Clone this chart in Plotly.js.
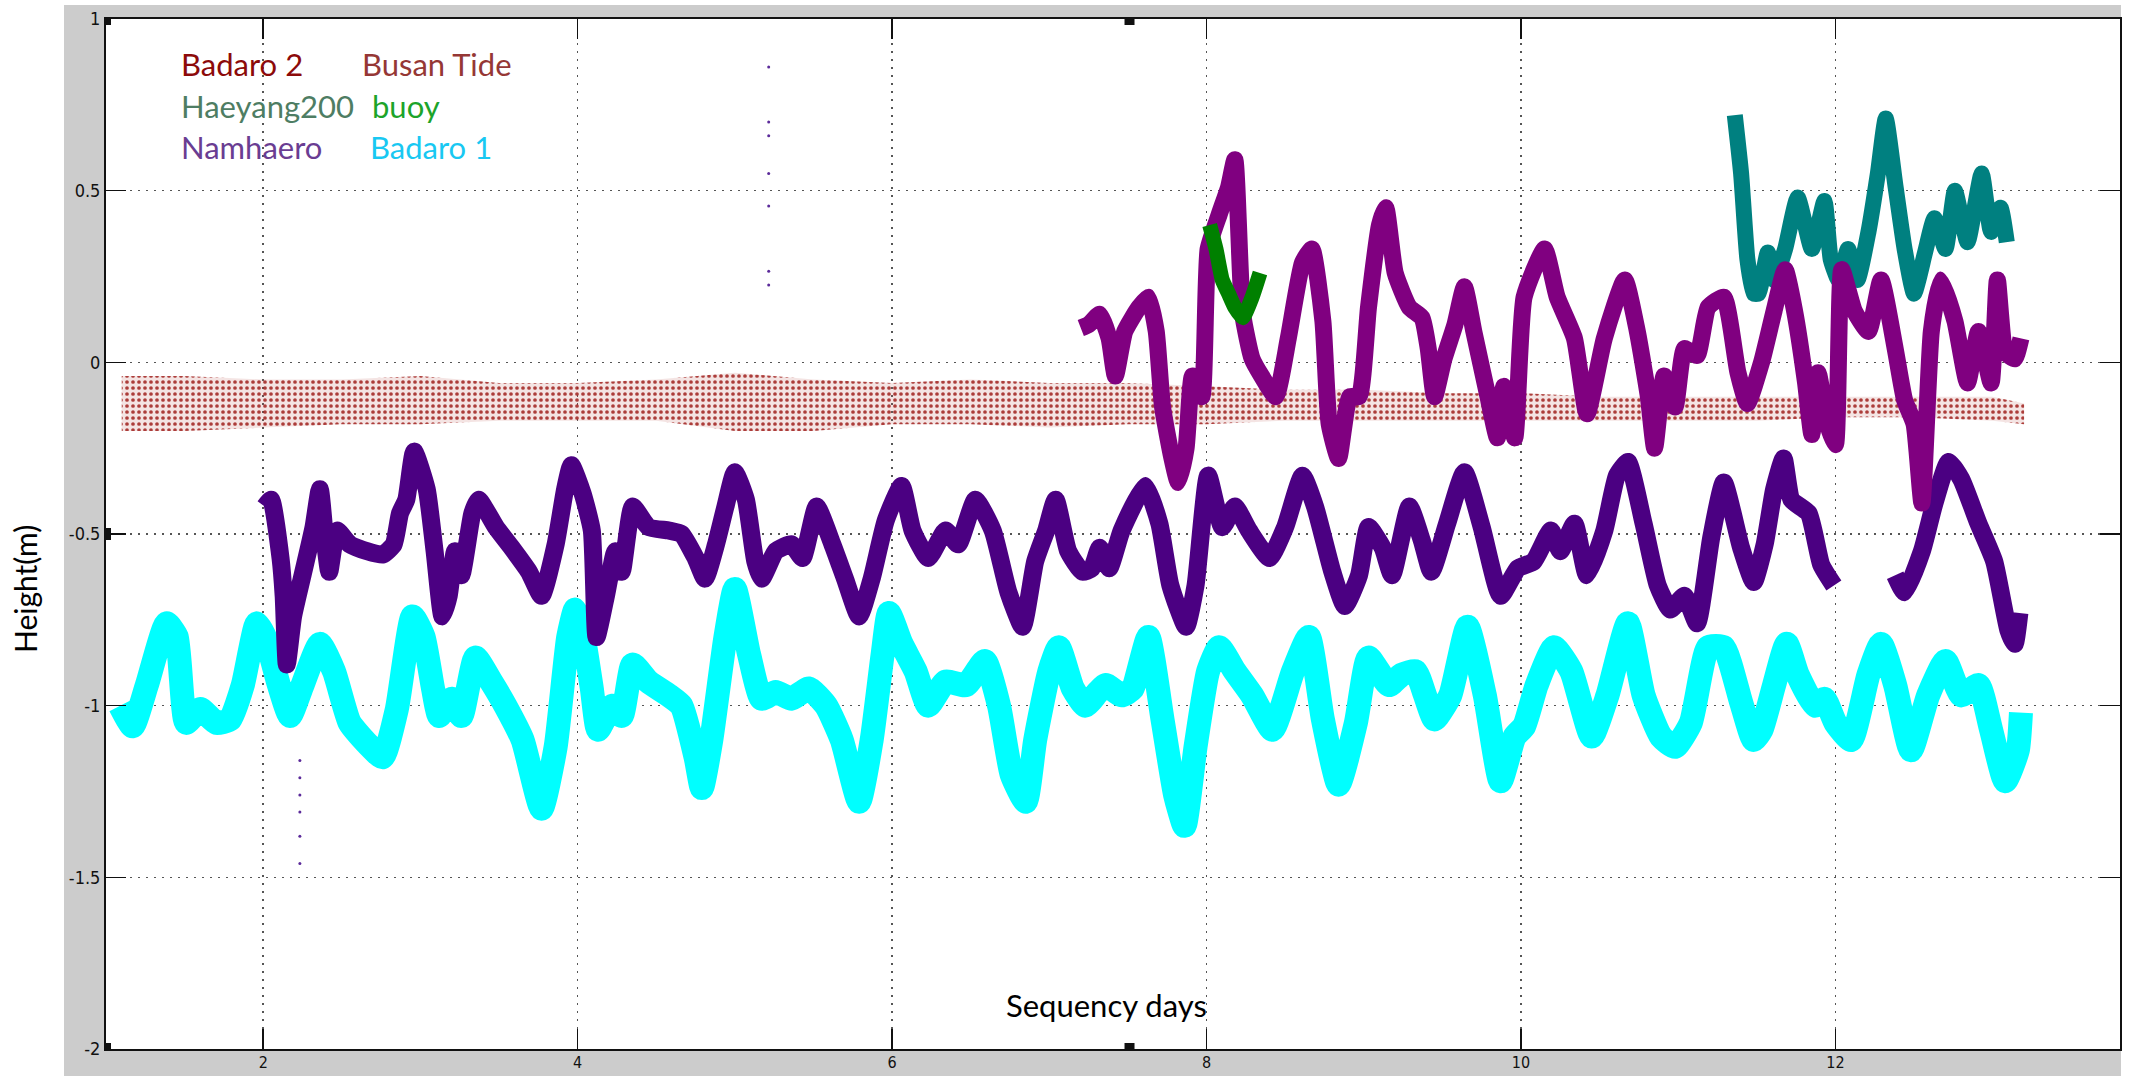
<!DOCTYPE html>
<html>
<head>
<meta charset="utf-8">
<script src="https://cdn.plot.ly/plotly-3.0.1.min.js"></script>
<style>
html,body{margin:0;padding:0;background:#ffffff;}
#chart{width:2131px;height:1076px;}
</style>
</head>
<body>
<div id="chart"></div>
<script>
// ---- Badaro 1 (cyan) ----
const badaro1X = [1.09,1.17,1.26,1.385,1.45,1.51,1.60,1.70,1.79,1.87,1.96,2.02,2.10,2.17,2.25,2.36,2.45,2.55,2.66,2.76,2.85,2.95,3.02,3.08,3.12,3.20,3.26,3.35,3.45,3.54,3.65,3.77,3.86,3.94,3.985,4.03,4.09,4.13,4.22,4.28,4.35,4.45,4.58,4.66,4.75,4.79,4.85,4.94,5.00,5.09,5.17,5.26,5.36,5.47,5.58,5.68,5.79,5.87,5.94,5.98,6.06,6.15,6.23,6.34,6.47,6.59,6.68,6.76,6.85,6.91,7.00,7.06,7.15,7.23,7.31,7.36,7.46,7.53,7.63,7.72,7.80,7.86,7.93,8.01,8.08,8.18,8.29,8.42,8.55,8.65,8.74,8.84,8.95,9.03,9.16,9.24,9.33,9.39,9.45,9.55,9.66,9.77,9.87,9.96,10.02,10.10,10.21,10.32,10.45,10.55,10.68,10.78,10.89,10.98,11.08,11.19,11.29,11.40,11.48,11.53,11.61,11.69,11.76,11.87,11.93,12.00,12.10,12.21,12.29,12.38,12.48,12.59,12.70,12.80,12.91,12.99,13.08,13.16,13.18];
const badaro1Y = [-1.00,-1.06,-0.94,-0.76,-0.80,-1.05,-1.01,-1.05,-1.04,-0.94,-0.76,-0.81,-0.94,-1.03,-0.94,-0.82,-0.90,-1.05,-1.11,-1.15,-1.01,-0.74,-0.80,-0.95,-1.03,-0.98,-1.03,-0.86,-0.93,-1.00,-1.10,-1.30,-1.12,-0.80,-0.72,-0.78,-0.95,-1.07,-1.00,-1.03,-0.88,-0.93,-0.97,-1.00,-1.15,-1.24,-1.10,-0.80,-0.66,-0.85,-0.98,-0.96,-0.98,-0.95,-1.00,-1.10,-1.28,-1.10,-0.85,-0.73,-0.82,-0.90,-1.00,-0.93,-0.94,-0.87,-1.00,-1.20,-1.28,-1.10,-0.90,-0.83,-0.95,-1.00,-0.96,-0.94,-0.97,-0.95,-0.80,-1.04,-1.26,-1.35,-1.12,-0.90,-0.83,-0.90,-0.97,-1.07,-0.90,-0.80,-1.04,-1.23,-1.05,-0.86,-0.94,-0.91,-0.90,-0.97,-1.04,-0.97,-0.77,-0.97,-1.22,-1.09,-1.06,-0.94,-0.83,-0.90,-1.09,-0.97,-0.76,-0.97,-1.09,-1.12,-1.05,-0.83,-0.83,-0.99,-1.10,-1.07,-0.94,-0.82,-0.91,-1.00,-0.98,-1.05,-1.10,-0.91,-0.82,-0.94,-1.13,-0.97,-0.87,-0.97,-0.94,-1.07,-1.22,-1.13,-1.02];

// ---- Namhaero (indigo) ----
const namhaeroX = [2.01,2.05,2.11,2.13,2.15,2.19,2.25,2.32,2.36,2.40,2.42,2.47,2.55,2.66,2.76,2.83,2.87,2.91,2.96,3.04,3.09,3.14,3.18,3.22,3.26,3.33,3.37,3.48,3.58,3.69,3.77,3.86,3.92,3.96,4.03,4.09,4.12,4.18,4.24,4.28,4.35,4.45,4.58,4.66,4.75,4.81,4.88,4.94,5.00,5.07,5.13,5.17,5.26,5.36,5.43,5.52,5.62,5.70,5.79,5.87,5.96,6.06,6.13,6.23,6.34,6.42,6.53,6.64,6.74,6.83,6.91,6.98,7.04,7.12,7.21,7.27,7.32,7.38,7.46,7.61,7.70,7.77,7.87,7.93,8.01,8.10,8.18,8.27,8.40,8.50,8.61,8.69,8.80,8.88,8.97,9.03,9.12,9.18,9.29,9.37,9.43,9.53,9.64,9.75,9.87,9.98,10.08,10.19,10.25,10.34,10.42,10.53,10.61,10.68,10.78,10.87,10.95,11.04,11.12,11.21,11.29,11.40,11.48,11.55,11.61,11.67,11.72,11.83,11.91,11.99,12.10,12.38,12.44,12.55,12.63,12.72,12.80,12.91,13.01,13.10,13.14,13.17];
const namhaeroY = [-0.42,-0.40,-0.57,-0.68,-0.88,-0.74,-0.62,-0.48,-0.37,-0.55,-0.61,-0.49,-0.53,-0.55,-0.56,-0.53,-0.44,-0.40,-0.26,-0.37,-0.55,-0.74,-0.68,-0.55,-0.62,-0.44,-0.40,-0.48,-0.54,-0.61,-0.68,-0.53,-0.37,-0.30,-0.38,-0.49,-0.80,-0.68,-0.55,-0.61,-0.42,-0.48,-0.49,-0.50,-0.57,-0.63,-0.53,-0.42,-0.32,-0.40,-0.58,-0.63,-0.55,-0.53,-0.57,-0.42,-0.53,-0.63,-0.74,-0.63,-0.46,-0.36,-0.49,-0.57,-0.49,-0.53,-0.40,-0.49,-0.67,-0.77,-0.58,-0.49,-0.40,-0.55,-0.61,-0.60,-0.54,-0.60,-0.49,-0.36,-0.47,-0.65,-0.77,-0.65,-0.33,-0.48,-0.42,-0.49,-0.57,-0.48,-0.33,-0.42,-0.61,-0.71,-0.62,-0.48,-0.54,-0.62,-0.42,-0.52,-0.61,-0.47,-0.32,-0.48,-0.68,-0.60,-0.58,-0.49,-0.55,-0.47,-0.62,-0.49,-0.33,-0.29,-0.47,-0.65,-0.72,-0.68,-0.76,-0.51,-0.35,-0.54,-0.64,-0.53,-0.37,-0.28,-0.40,-0.44,-0.59,-0.65,null,-0.62,-0.67,-0.55,-0.41,-0.29,-0.34,-0.47,-0.58,-0.78,-0.82,-0.73];
const namhaeroOutX = [2.233,2.233,2.233,2.233,2.233,2.233,5.215,5.215,5.215,5.215,5.215,5.215,5.215];
const namhaeroOutY = [-1.16,-1.21,-1.26,-1.31,-1.38,-1.46,0.86,0.70,0.66,0.55,0.455,0.265,0.225];

// ---- Badaro 2 (purple) ----
const badaro2X = [7.20,7.25,7.32,7.38,7.42,7.48,7.57,7.63,7.68,7.72,7.78,7.82,7.87,7.91,7.97,8.01,8.08,8.14,8.18,8.23,8.29,8.35,8.44,8.52,8.61,8.67,8.74,8.78,8.84,8.91,8.97,9.03,9.10,9.14,9.20,9.29,9.37,9.41,9.45,9.51,9.58,9.64,9.70,9.79,9.85,9.89,9.96,10.02,10.15,10.23,10.34,10.42,10.53,10.66,10.74,10.81,10.85,10.91,10.98,11.04,11.12,11.19,11.29,11.38,11.44,11.53,11.61,11.68,11.74,11.81,11.85,11.89,11.95,12.00,12.04,12.12,12.21,12.29,12.38,12.44,12.50,12.55,12.61,12.67,12.76,12.84,12.91,12.99,13.03,13.08,13.14,13.18];
const badaro2Y = [0.10,0.11,0.14,0.07,-0.04,0.09,0.16,0.19,0.09,-0.13,-0.28,-0.35,-0.25,-0.04,-0.10,0.33,0.43,0.51,0.59,0.14,0.01,-0.04,-0.10,0.07,0.29,0.33,0.12,-0.18,-0.28,-0.10,-0.10,0.16,0.40,0.45,0.26,0.16,0.13,0.04,-0.10,0.01,0.11,0.22,0.09,-0.10,-0.22,-0.07,-0.22,0.19,0.33,0.19,0.07,-0.15,0.07,0.24,0.09,-0.10,-0.25,-0.04,-0.13,0.04,0.02,0.16,0.19,-0.03,-0.12,0.00,0.15,0.27,0.15,-0.06,-0.21,-0.03,-0.18,-0.24,0.27,0.15,0.09,0.24,0.04,-0.11,-0.18,-0.41,0.09,0.24,0.12,-0.06,0.09,-0.06,0.24,0.03,0.01,0.07];

// ---- Haeyang200 (teal) ----
const haeyangX = [11.36,11.40,11.44,11.48,11.51,11.57,11.61,11.68,11.76,11.85,11.93,11.97,12.02,12.08,12.14,12.21,12.27,12.32,12.38,12.44,12.50,12.57,12.63,12.70,12.76,12.84,12.93,12.99,13.05,13.09];
const haeyangY = [0.72,0.55,0.30,0.20,0.20,0.32,0.24,0.33,0.48,0.33,0.47,0.30,0.24,0.33,0.24,0.38,0.55,0.71,0.52,0.33,0.20,0.32,0.42,0.33,0.50,0.35,0.55,0.38,0.45,0.35];

// ---- buoy (green) ----
const buoyX = [8.02,8.06,8.10,8.14,8.18,8.23,8.29,8.34];
const buoyY = [0.40,0.33,0.24,0.20,0.16,0.13,0.19,0.26];

// ---- Busan Tide (brown band: upper / lower edges of the dense scatter) ----
const busanX     = [1.1,1.5,2.0,2.5,3.0,3.5,4.0,4.5,5.0,5.5,6.0,6.5,7.0,7.5,8.0,8.5,9.0,9.5,10.0,10.5,11.0,11.5,12.0,12.5,13.0,13.2];
const busanUpper = [-0.04,-0.04,-0.05,-0.05,-0.04,-0.06,-0.06,-0.05,-0.03,-0.05,-0.06,-0.05,-0.06,-0.06,-0.07,-0.08,-0.08,-0.09,-0.09,-0.10,-0.10,-0.10,-0.10,-0.10,-0.10,-0.12];
const busanLower = [-0.20,-0.20,-0.19,-0.18,-0.18,-0.17,-0.17,-0.17,-0.20,-0.20,-0.18,-0.18,-0.19,-0.18,-0.18,-0.17,-0.17,-0.17,-0.17,-0.17,-0.17,-0.17,-0.16,-0.16,-0.17,-0.18];

// ---- axis ticks and labels ----
const xTicks = [2,4,6,8,10,12];
const yTicks = [-2,-1.5,-1,-0.5,0,0.5,1];
const yTickText = ['-2','-1.5','-1','-0.5','0','0.5','1'];
const legendTexts = ['Badaro 2','Busan Tide','Haeyang200','buoy','Namhaero','Badaro 1'];

const tickFontX = {family:'"Liberation Sans Narrow","Arial Narrow","DejaVu Sans Condensed","Liberation Sans",sans-serif', size:16, color:'#111'};
const tickFontY = {family:'"Liberation Sans Narrow","Arial Narrow","DejaVu Sans Condensed","Liberation Sans",sans-serif', size:18, color:'#111'};
const textFont = 'Lato, "Open Sans", sans-serif';

const traces = [
  {x:busanX, y:busanLower, mode:'lines', line:{width:0, color:'rgba(165,42,42,0)'}, hoverinfo:'skip', name:'Busan Tide low'},
  {x:busanX, y:busanUpper, mode:'lines', fill:'tonexty', fillcolor:'rgba(190,90,80,0.16)',
   fillpattern:{shape:'.', fgcolor:'#a0201c', fgopacity:0.85, size:6, solidity:0.3, fillmode:'overlay'},
   line:{width:0, color:'rgba(165,42,42,0)'}, name:'Busan Tide'},
  {x:badaro1X, y:badaro1Y, mode:'lines', line:{color:'#00ffff', width:24, shape:'spline', smoothing:0.5}, name:'Badaro 1'},
  {x:namhaeroX, y:namhaeroY, mode:'lines', line:{color:'#4b0082', width:18, shape:'spline', smoothing:0.5}, connectgaps:false, name:'Namhaero'},
  {x:namhaeroOutX, y:namhaeroOutY, mode:'markers', marker:{color:'#5b2a9a', size:3}, name:'Namhaero outliers'},
  {x:haeyangX, y:haeyangY, mode:'lines', line:{color:'#008080', width:16, shape:'spline', smoothing:0.5}, name:'Haeyang200'},
  {x:badaro2X, y:badaro2Y, mode:'lines', line:{color:'#800080', width:17, shape:'spline', smoothing:0.5}, name:'Badaro 2'},
  {x:buoyX, y:buoyY, mode:'lines', line:{color:'#008000', width:15, shape:'spline', smoothing:0.5}, name:'buoy'}
];

function handle(xv, yv){
  return {type:'rect', xref:'x', yref:'y', xsizemode:'pixel', ysizemode:'pixel', xanchor:xv, yanchor:yv,
          x0:-5, x1:5, y0:-6, y1:6, fillcolor:'#111', line:{width:0}, layer:'above'};
}

const legendColors = ['#8c0a0a','#953735','#4e7d63','#1ca42a','#6a3d92','#18c8f2'];
const legendPos = [[0.0360,0.9563],[0.1260,0.9563],[0.0360,0.9155],[0.1310,0.9155],[0.0360,0.8757],[0.1300,0.8757]];
const annotations = legendTexts.map((t,i)=>({
  text:t, xref:'paper', yref:'paper', x:legendPos[i][0], y:legendPos[i][1], xanchor:'left', yanchor:'middle',
  showarrow:false, font:{family:textFont, size:31, color:legendColors[i]}
}));
annotations.push({text:'Sequency days', xref:'paper', yref:'paper', x:0.497, y:0.0427, xanchor:'center', yanchor:'middle',
  showarrow:false, font:{family:textFont, size:31, color:'#000'}});
annotations.push({text:'Height(m)', xref:'paper', yref:'paper', x:-0.0405, y:0.447, xanchor:'center', yanchor:'middle',
  textangle:-90, showarrow:false, font:{family:textFont, size:30, color:'#000'}});

const layout = {
  width:2131, height:1076,
  margin:{l:106, r:11, t:19, b:27, pad:0},
  paper_bgcolor:'#cccccc', plot_bgcolor:'#ffffff',
  showlegend:false,
  xaxis:{range:[1,13.81], tickmode:'array', tickvals:xTicks, ticktext:xTicks.map(String),
         ticks:'inside', ticklen:20, tickwidth:1.5, tickcolor:'#111', ticklabelstandoff:-2,
         showline:true, linecolor:'#111', linewidth:2, mirror:'ticks',
         showgrid:true, gridcolor:'#555', gridwidth:1.5, griddash:'2px,6px', zeroline:false,
         tickfont:tickFontX, fixedrange:true},
  yaxis:{range:[-2,1], tickmode:'array', tickvals:yTicks, ticktext:yTickText,
         ticks:'inside', ticklen:20, tickwidth:1.5, tickcolor:'#111',
         showline:true, linecolor:'#111', linewidth:2, mirror:'ticks',
         showgrid:true, gridcolor:'#555', gridwidth:1.5, griddash:'2px,6px', zeroline:false,
         tickfont:tickFontY, fixedrange:true},
  shapes:[
    {type:'rect', xref:'paper', yref:'paper', x0:-0.06, x1:-0.02085, y0:-0.03, y1:1.02, fillcolor:'#ffffff', line:{width:0}, layer:'below'},
    {type:'rect', xref:'paper', yref:'paper', x0:-0.06, x1:1.01, y0:1.01359, y1:1.02, fillcolor:'#ffffff', line:{width:0}, layer:'below'},
    {type:'rect', xref:'paper', yref:'paper', x0:1.0005, x1:1.01, y0:-0.03, y1:1.02, fillcolor:'#ffffff', line:{width:0}, layer:'below'},
    handle(1,1), handle(7.51,1), handle(1,-0.5), handle(1,-2), handle(7.51,-2)
  ],
  annotations:annotations
};

Plotly.newPlot('chart', traces, layout, {displayModeBar:false, staticPlot:true});
</script>
</body>
</html>
